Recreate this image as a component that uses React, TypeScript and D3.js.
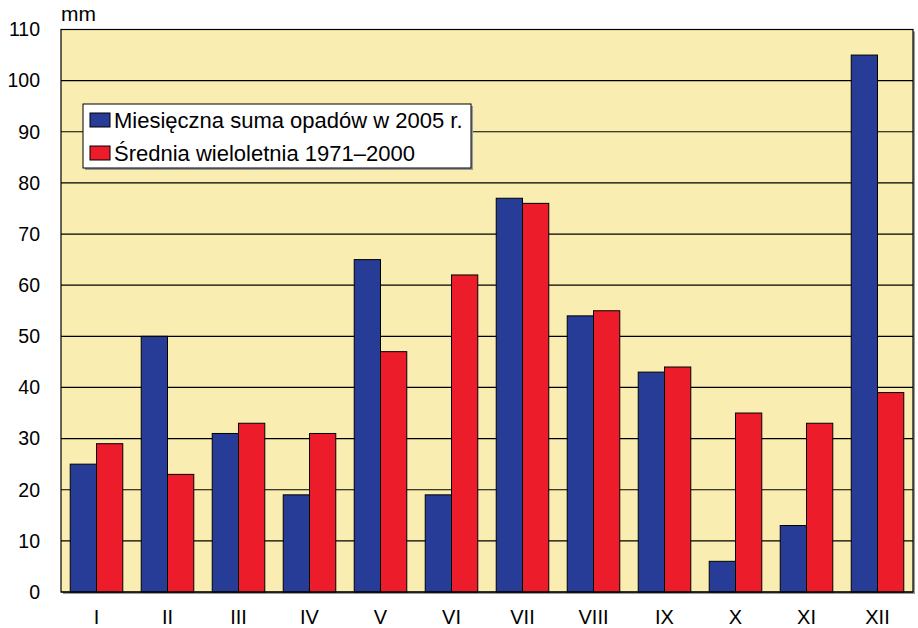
import React from "react";
import * as d3 from "d3";

const months = ["I", "II", "III", "IV", "V", "VI", "VII", "VIII", "IX", "X", "XI", "XII"];
const sum2005 = [25, 50, 31, 19, 65, 19, 77, 54, 43, 6, 13, 105];
const avg7100 = [29, 23, 33, 31, 47, 62, 76, 55, 44, 35, 33, 39];
const yTicks = [0, 10, 20, 30, 40, 50, 60, 70, 80, 90, 100, 110];
const seriesNames = ["Miesięczna suma opadów w 2005 r.", "Średnia wieloletnia 1971–2000"];
const colors = ["#263c97", "#ec1c2b"];

export default function App() {
  const W = 918, H = 628;
  const left = 61, right = 913, top = 29.5, bottom = 592;
  const x = d3.scaleBand().domain(months).range([left, right]).paddingInner(0.26).paddingOuter(0.13);
  const y = d3.scaleLinear().domain([0, 110]).range([bottom, top]);
  const bw = x.bandwidth() / 2;
  const font = "'Liberation Sans', Arial, sans-serif";
  return (
    <svg width={W} height={H} style={{ position: "absolute", left: 0, top: 0, fontFamily: font }}>
      <rect x={0} y={0} width={W} height={H} fill="#ffffff" />
      <rect x={left + 2} y={top + 2} width={right - left} height={bottom - top} fill="#9a9a9a" />
      <rect x={left} y={top} width={right - left} height={bottom - top} fill="#f9edb1" />
      {yTicks.map((t) => (
        <g key={t}>
          <line x1={left} x2={right} y1={y(t)} y2={y(t)} stroke="#000" strokeWidth={1.2} />
          <text x={40} y={y(t)} dy="0.35em" textAnchor="end" fontSize={19.5}>{t}</text>
        </g>
      ))}
      <text x={61} y={21} fontSize={21}>mm</text>
      {months.map((m, i) => (
        <g key={m}>
          <rect x={x(m)!} y={y(sum2005[i])} width={bw} height={bottom - y(sum2005[i])} fill={colors[0]} stroke="#000" strokeWidth={1} />
          <rect x={x(m)! + bw} y={y(avg7100[i])} width={bw} height={bottom - y(avg7100[i])} fill={colors[1]} stroke="#000" strokeWidth={1} />
          <text x={x(m)! + x.bandwidth() / 2} y={617} dy="0.35em" textAnchor="middle" fontSize={20}>{m}</text>
        </g>
      ))}
      <rect x={left} y={top} width={right - left} height={bottom - top} fill="none" stroke="#000" strokeWidth={1.2} />
      <g>
        <rect x={85} y={106} width={388} height={64} fill="#9a9a9a" />
        <rect x={83} y={104} width={388} height={64} fill="#fff" stroke="#000" strokeWidth={1} />
        {seriesNames.map((s, i) => (
          <g key={s}>
            <rect x={90} y={113 + i * 33} width={20} height={14} fill={colors[i]} stroke="#000" strokeWidth={1} />
            <text x={114} y={120 + i * 33} dy="0.36em" fontSize={22}>{s}</text>
          </g>
        ))}
      </g>
    </svg>
  );
}
